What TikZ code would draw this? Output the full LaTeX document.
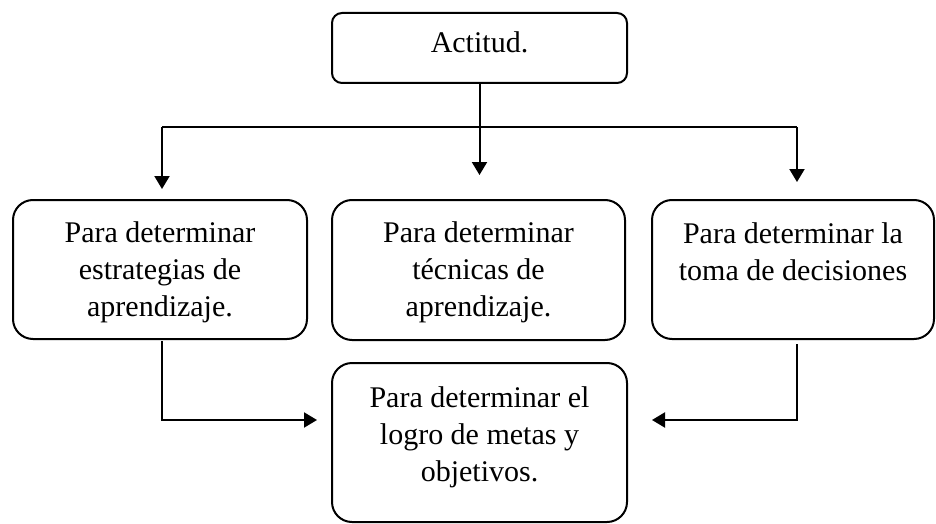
\documentclass[tikz,border=0pt]{standalone}
\usepackage{fontspec}
\setmainfont{Liberation Serif}
\usetikzlibrary{arrows.meta}
\tikzset{
  box/.style={draw, line width=2pt, rounded corners=20pt, inner sep=0pt, fill=none},
  topbox/.style={box, rounded corners=10pt},
  txt/.style={anchor=base, inner sep=0pt, font=\fontsize{30}{37}\selectfont},
  conn/.style={line width=2pt, -{Triangle[length=13pt,width=15pt]}},
}
\newcommand{\boxtext}[1]{\parbox[t]{280pt}{\centering #1}}
\begin{document}
\begin{tikzpicture}[x=1pt,y=-1pt]
\useasboundingbox (0,0) rectangle (936,524);
% boxes
\node[topbox, minimum width=295pt, minimum height=70pt] (top) at (479.5,48) {};
\node[box, minimum width=294pt, minimum height=139pt] (left) at (160,269.5) {};
\node[box, minimum width=293pt, minimum height=140pt] (mid) at (478.5,270) {};
\node[box, minimum width=282pt, minimum height=139pt] (right) at (793,269.5) {};
\node[box, minimum width=295pt, minimum height=159pt] (bot) at (479.5,442.5) {};
% texts
\node[txt] (topt) at (479.5,53) {Actitud.};
\node[txt] (leftt) at (160,242) {\boxtext{Para determinar\\estrategias de\\aprendizaje.}};
\node[txt] (midt) at (478.5,242) {\boxtext{Para determinar\\técnicas de\\aprendizaje.}};
\node[txt] (rightt) at (793,243) {\boxtext{Para determinar la\\toma de decisiones}};
\node[txt] (bott) at (479.5,407) {\boxtext{Para determinar el\\logro de metas y\\objetivos.}};
% coordinates
\coordinate (hl) at (162,127);
\coordinate (hr) at (797,127);
\coordinate (tl) at (162,189);
\coordinate (tm) at (479.5,175);
\coordinate (tr) at (797,182);
\coordinate (ls) at (162,341);
\coordinate (lc) at (162,420);
\coordinate (le) at (317,420);
\coordinate (rs) at (797,344);
\coordinate (rc) at (797,420);
\coordinate (re) at (652,420);
% connectors
\draw[conn] (top.south) -- (tm);
\draw[line width=2pt] (hl) -- (hr);
\draw[conn] (hl) -- (tl);
\draw[conn] (hr) -- (tr);
\draw[conn] (ls) -- (lc) -- (le);
\draw[conn] (rs) -- (rc) -- (re);
\end{tikzpicture}
\end{document}
